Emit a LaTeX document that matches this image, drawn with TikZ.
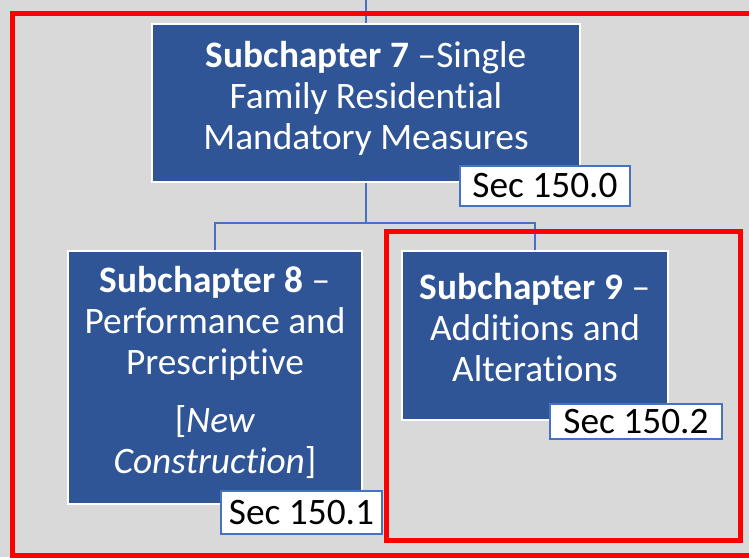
\documentclass[tikz,border=0pt]{standalone}
\usepackage{fontspec}
\setmainfont{Carlito}[Ligatures={NoCommon}]
\usetikzlibrary{positioning}
\definecolor{boxblue}{RGB}{47,85,151}
\definecolor{lineblue}{RGB}{68,114,196}
\definecolor{bggrey}{RGB}{217,217,217}
\definecolor{markred}{RGB}{255,0,0}
\begin{document}
\begin{tikzpicture}[x=0.75pt,y=0.75pt,yscale=-1,
	subbox/.style={draw=white, line width=1.5pt, fill=boxblue, text=white, align=center, inner sep=0pt, text depth=12pt, font=\fontsize{28}{30.75}\selectfont},
	secbox/.style={draw=lineblue, line width=1.5pt, fill=white, text=black, inner sep=0pt, font=\fontsize{28}{30}\selectfont},
	link/.style={draw=lineblue, line width=1.2pt},
	redframe/.style={draw=markred, line width=3.75pt}]
	\useasboundingbox (0,0) rectangle (749,557);
	\clip (0,0) rectangle (749,557);
	%Background
	\fill [bggrey] (0,0) rectangle (749,557);
	
	%Subchapter boxes
	\node [subbox, minimum width=321pt, minimum height=118.5pt] (sub7) at (366,103) {\textbf{Subchapter 7} –Single\\Family Residential\\Mandatory Measures};
	\node [subbox, minimum width=220.5pt, minimum height=189.75pt] (sub8) at (215,377.5) {\textbf{Subchapter 8} –\\Performance and\\Prescriptive\\[12.75pt][\textit{New}\\\textit{Construction}]};
	\node [subbox, minimum width=199.5pt, minimum height=126.75pt] (sub9) at (535,335.5) {\textbf{Subchapter 9} –\\Additions and\\Alterations};
	
	%Section labels
	\node [secbox, minimum width=127.5pt, minimum height=30pt] (sec0) at (545,186) {Sec 150.0};
	\node [secbox, minimum width=120.75pt, minimum height=32.25pt] (sec1) at (301.5,512.5) {Sec 150.1};
	\node [secbox, minimum width=129pt, minimum height=26.25pt] (sec2) at (636,421.5) {Sec 150.2};
	
	%Connectors
	\coordinate (top) at (366,0);
	\coordinate (split) at (366,223);
	\draw [link] (top) -- (sub7.north);
	\draw [link] (sub7.south) -- (split);
	\draw [link] (sub8.north) |- (split) -| (sub9.north);
	
	%Red frames
	\draw [redframe] (12,13) rectangle (760,555);
	\draw [redframe] (386,231) rectangle (740,540);
\end{tikzpicture}
\end{document}
